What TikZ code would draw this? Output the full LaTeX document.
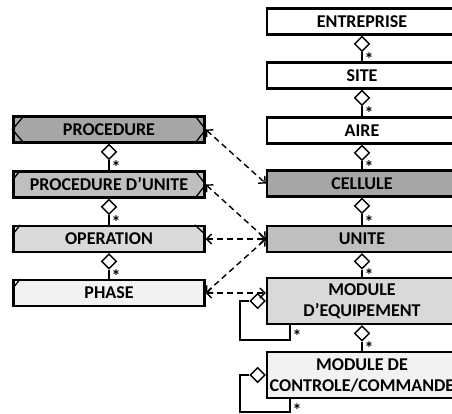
\documentclass[tikz,border=0pt]{standalone}
\usepackage{fontspec}
\setmainfont{Carlito}
\usetikzlibrary{arrows.meta,shapes.geometric}
\definecolor{lvA}{HTML}{A6A6A6}
\definecolor{lvB}{HTML}{BFBFBF}
\definecolor{lvC}{HTML}{D9D9D9}
\definecolor{lvD}{HTML}{F2F2F2}
\begin{document}
\begin{tikzpicture}[x=1pt,y=-1pt,
  box/.style={draw, line width=2.3pt, inner sep=0pt, align=center, text=black,
    font=\fontsize{18}{21}\selectfont\bfseries, minimum height=26pt},
  rbox/.style={box, minimum width=190pt},
  lbox/.style={box, minimum width=191pt},
  agg/.style={diamond, draw, fill=white, line width=1.4pt, inner sep=0pt,
    minimum width=15pt, minimum height=15pt},
  link/.style={line width=1.3pt},
  mark line/.style={line width=1.3pt},
  mult/.style={font=\fontsize{18}{18}\selectfont\bfseries, inner sep=0pt, text=black},
  dep/.style={line width=1.4pt, dash pattern=on 6pt off 4pt,
    {Straight Barb[length=5pt,width=10pt]}-{Straight Barb[length=5pt,width=10pt]}}
]
\useasboundingbox (0,0) rectangle (452,413);
\clip (0,0) rectangle (452,413);

% physical hierarchy
\node[rbox, fill=white] (ent)  at (362,21.5)  {ENTREPRISE};
\node[rbox, fill=white] (site) at (362,75.5)  {SITE};
\node[rbox, fill=white] (aire) at (362,130.5) {AIRE};
\node[rbox, fill=lvA]   (cell) at (362,183.5) {CELLULE};
\node[rbox, fill=lvB]   (unite) at (362,239)  {UNITE};
\node[rbox, fill=lvC, minimum height=46pt] (modeq) at (362,301) {MODULE\\D’EQUIPEMENT};
\node[rbox, fill=lvD, minimum height=46pt] (modcc) at (362,375) {MODULE DE\\CONTROLE/COMMANDE};

% procedural hierarchy
\node[lbox, fill=lvA] (proc) at (109,129.5) {PROCEDURE};
\node[lbox, fill=lvB] (pu)   at (109,184.5) {PROCEDURE D’UNITE};
\node[lbox, fill=lvC] (op)   at (109,239)   {OPERATION};
\node[lbox, fill=lvD] (ph)   at (109,293)   {PHASE};

% corner marks of the procedural elements
\draw[mark line] ([xshift=12pt]proc.north west) -- (proc.west) -- ([xshift=12pt]proc.south west);
\draw[mark line] ([xshift=-11pt]proc.north east) -- (proc.east) -- ([xshift=-11pt]proc.south east);
\draw[mark line] ([yshift=-10pt]pu.north west) -- ([xshift=8pt]pu.north west);
\draw[mark line] ([xshift=-11pt]pu.north east) -- (pu.east) -- ([xshift=-11pt]pu.south east);
\draw[mark line] ([yshift=-10pt]op.north west) -- ([xshift=8pt]op.north west);
\draw[mark line] ([xshift=-11pt]op.north east) -- ([yshift=-10pt]op.north east);
\draw[mark line] ([yshift=-10pt]ph.north west) -- ([xshift=8pt]ph.north west);

% aggregations, physical side
\node[agg, anchor=north] (a1) at (ent.south) {};
\draw[link] (a1.south) -- node[mult, right=2pt, pos=0.7] {*} (site.north);
\node[agg, anchor=north] (a2) at (site.south) {};
\draw[link] (a2.south) -- node[mult, right=2pt, pos=0.7] {*} (aire.north);
\node[agg, anchor=north] (a3) at (aire.south) {};
\draw[link] (a3.south) -- node[mult, right=2pt, pos=0.7] {*} (cell.north);
\node[agg, anchor=north] (a4) at (cell.south) {};
\draw[link] (a4.south) -- node[mult, right=2pt, pos=0.7] {*} (unite.north);
\node[agg, anchor=north] (a5) at (unite.south) {};
\draw[link] (a5.south) -- node[mult, right=2pt, pos=0.7] {*} (modeq.north);
\node[agg, anchor=north] (a6) at (modeq.south) {};
\draw[link] (a6.south) -- node[mult, right=2pt, pos=0.7] {*} (modcc.north);

% aggregations, procedural side
\node[agg, anchor=north] (b1) at (proc.south) {};
\draw[link] (b1.south) -- node[mult, right=2pt, pos=0.7] {*} (pu.north);
\node[agg, anchor=north] (b2) at (pu.south) {};
\draw[link] (b2.south) -- node[mult, right=2pt, pos=0.7] {*} (op.north);
\node[agg, anchor=north] (b3) at (op.south) {};
\draw[link] (b3.south) -- node[mult, right=2pt, pos=0.7] {*} (ph.north);

% recursive aggregations
\node[agg, anchor=east] (a8) at (modeq.west) {};
\draw[link] (a8.west) -| (240,340) -| ([xshift=-72pt]modeq.south);
\node[mult] at (297,336) {*};
\node[agg, anchor=east] (a9) at (modcc.west) {};
\draw[link] (a9.west) -| (240,412) -| ([xshift=-72pt]modcc.south);
\node[mult] at (297,410) {*};

% correspondences between the two hierarchies
\draw[dep] (proc.east) -- (cell.west);
\draw[dep] (pu.east) -- (unite.west);
\draw[dep] (op.east) -- (unite.west);
\draw[dep] (ph.east) -- (unite.west);
\draw[dep] (ph.east) -- (ph.east -| modeq.west);
\end{tikzpicture}
\end{document}
